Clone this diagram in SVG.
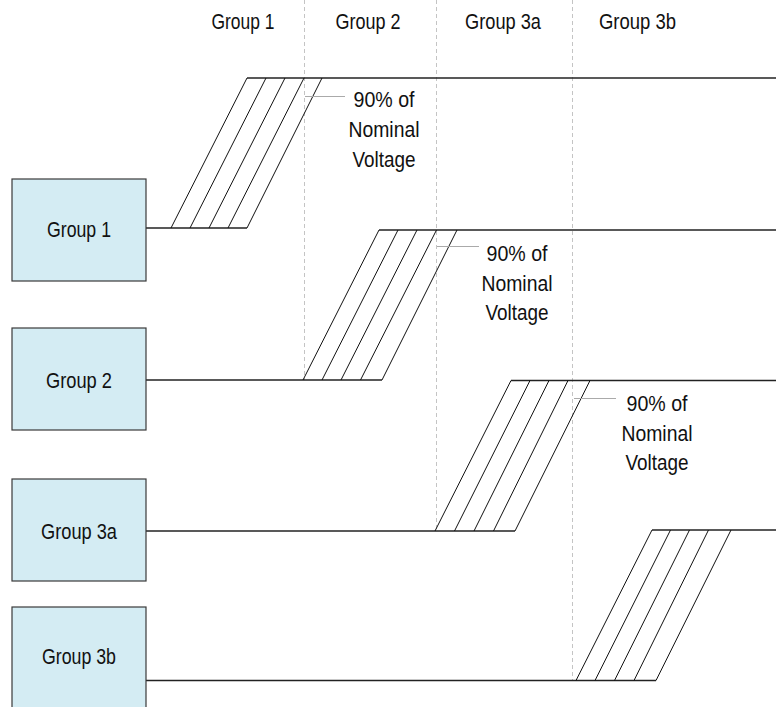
<svg xmlns="http://www.w3.org/2000/svg" width="776" height="707" viewBox="0 0 776 707">
  <style>
    .lbl { font-family: "Liberation Sans", Arial, sans-serif; font-size: 22px; fill: #111; text-anchor: middle; }
    .box { fill: #d4ecf3; stroke: #3a3a3a; stroke-width: 1.2; }
    .grid { stroke: #c4c4c4; stroke-width: 1; stroke-dasharray: 4 3; fill: none; }
    .wire { stroke: #222; stroke-width: 1.3; fill: none; }
    .ramp { stroke: #111; stroke-width: 1; fill: none; }
    .lead { stroke: #aaaaaa; stroke-width: 1; fill: none; }
  </style>

  <!-- phase column dividers -->
  <g id="dividers">
    <line class="grid" x1="304.5" y1="0" x2="304.5" y2="380"/>
    <line class="grid" x1="436.5" y1="0" x2="436.5" y2="531"/>
    <line class="grid" x1="572.5" y1="0" x2="572.5" y2="680"/>
  </g>

  <!-- column headings -->
  <g id="headings">
    <text class="lbl" x="243" y="29" textLength="63" lengthAdjust="spacingAndGlyphs">Group 1</text>
    <text class="lbl" x="368" y="29" textLength="65" lengthAdjust="spacingAndGlyphs">Group 2</text>
    <text class="lbl" x="503" y="29" textLength="76" lengthAdjust="spacingAndGlyphs">Group 3a</text>
    <text class="lbl" x="637.5" y="29" textLength="77" lengthAdjust="spacingAndGlyphs">Group 3b</text>
  </g>

  <!-- supply rails -->
  <g id="connectors">
    <!-- Group 1 -->
    <polyline class="wire" points="146,228 247,228"/>
    <polyline class="wire" points="247,78 776,78"/>
    <g class="ramp">
      <line x1="171" y1="228" x2="247" y2="78"/>
      <line x1="190" y1="228" x2="266" y2="78"/>
      <line x1="209" y1="228" x2="285" y2="78"/>
      <line x1="228" y1="228" x2="304" y2="78"/>
      <line x1="247" y1="228" x2="322" y2="78"/>
    </g>
    <line class="lead" x1="305" y1="96.5" x2="345" y2="96.5"/>

    <!-- Group 2 -->
    <polyline class="wire" points="146,380 382,380"/>
    <polyline class="wire" points="379,230 776,230"/>
    <g class="ramp">
      <line x1="303" y1="380" x2="379" y2="230"/>
      <line x1="322" y1="380" x2="398" y2="230"/>
      <line x1="341" y1="380" x2="417" y2="230"/>
      <line x1="360.5" y1="380" x2="436.5" y2="230"/>
      <line x1="382" y1="380" x2="457" y2="230"/>
    </g>
    <line class="lead" x1="437" y1="246.5" x2="479" y2="246.5"/>

    <!-- Group 3a -->
    <polyline class="wire" points="146,531 515,531"/>
    <polyline class="wire" points="511,380.5 776,380.5"/>
    <g class="ramp">
      <line x1="435" y1="531" x2="511" y2="380.5"/>
      <line x1="454.5" y1="531" x2="530" y2="380.5"/>
      <line x1="474" y1="531" x2="549" y2="380.5"/>
      <line x1="493.5" y1="531" x2="568" y2="380.5"/>
      <line x1="515" y1="531" x2="590" y2="380.5"/>
    </g>
    <line class="lead" x1="574" y1="398.5" x2="616" y2="398.5"/>

    <!-- Group 3b -->
    <polyline class="wire" points="146,680.5 656,680.5"/>
    <polyline class="wire" points="652,530 776,530"/>
    <g class="ramp">
      <line x1="576" y1="680.5" x2="652" y2="530"/>
      <line x1="595" y1="680.5" x2="670.5" y2="530"/>
      <line x1="614.5" y1="680.5" x2="689.5" y2="530"/>
      <line x1="634" y1="680.5" x2="708.5" y2="530"/>
      <line x1="656" y1="680.5" x2="731" y2="530"/>
    </g>
  </g>

  <!-- threshold annotations -->
  <g id="note-group1">
    <text class="lbl" x="384" y="107" textLength="61" lengthAdjust="spacingAndGlyphs">90% of</text>
    <text class="lbl" x="384" y="137" textLength="71" lengthAdjust="spacingAndGlyphs">Nominal</text>
    <text class="lbl" x="384" y="166.5" textLength="63" lengthAdjust="spacingAndGlyphs">Voltage</text>
  </g>
  <g id="note-group2">
    <text class="lbl" x="517" y="261" textLength="61" lengthAdjust="spacingAndGlyphs">90% of</text>
    <text class="lbl" x="517" y="291" textLength="71" lengthAdjust="spacingAndGlyphs">Nominal</text>
    <text class="lbl" x="517" y="320" textLength="63" lengthAdjust="spacingAndGlyphs">Voltage</text>
  </g>
  <g id="note-group3a">
    <text class="lbl" x="657" y="411" textLength="61" lengthAdjust="spacingAndGlyphs">90% of</text>
    <text class="lbl" x="657" y="441" textLength="71" lengthAdjust="spacingAndGlyphs">Nominal</text>
    <text class="lbl" x="657" y="470" textLength="63" lengthAdjust="spacingAndGlyphs">Voltage</text>
  </g>

  <!-- power groups -->
  <g id="group1">
    <rect class="box" x="12" y="179" width="134" height="102"/>
    <text class="lbl" x="79" y="237" textLength="64" lengthAdjust="spacingAndGlyphs">Group 1</text>
  </g>
  <g id="group2">
    <rect class="box" x="12" y="328" width="134" height="102"/>
    <text class="lbl" x="79" y="387.5" textLength="66" lengthAdjust="spacingAndGlyphs">Group 2</text>
  </g>
  <g id="group3a">
    <rect class="box" x="12" y="479" width="134" height="102"/>
    <text class="lbl" x="79" y="538.5" textLength="76" lengthAdjust="spacingAndGlyphs">Group 3a</text>
  </g>
  <g id="group3b">
    <rect class="box" x="12" y="607" width="134" height="110"/>
    <text class="lbl" x="79" y="664" textLength="74" lengthAdjust="spacingAndGlyphs">Group 3b</text>
  </g>
</svg>
